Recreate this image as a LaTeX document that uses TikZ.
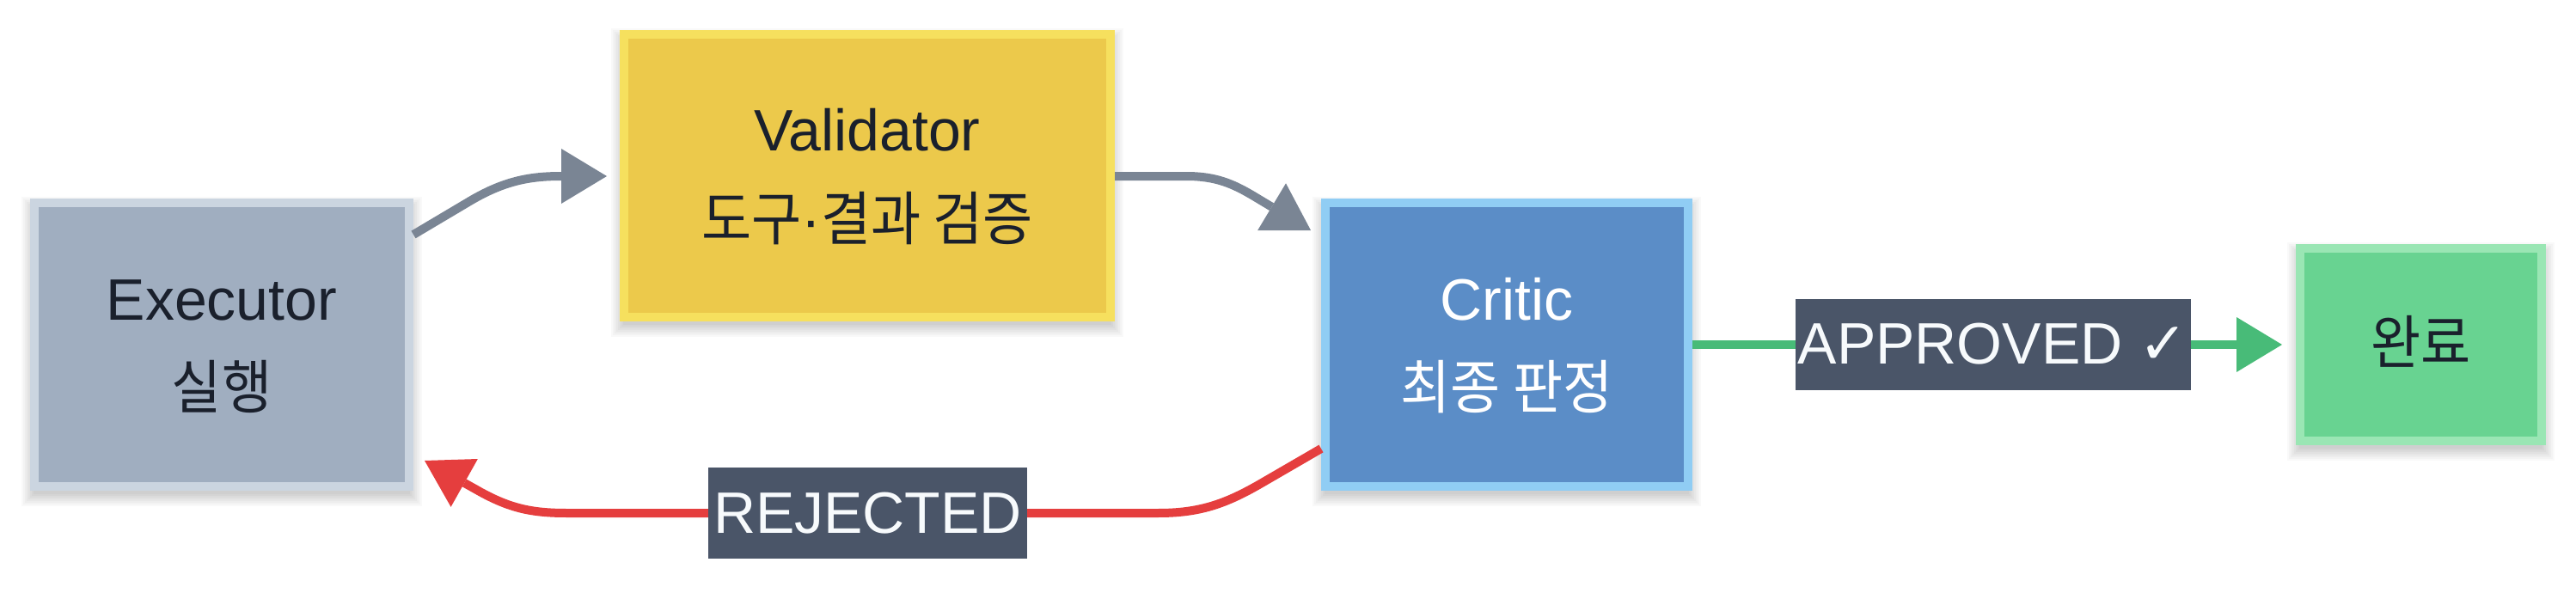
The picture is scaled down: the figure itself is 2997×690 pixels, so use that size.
\documentclass[tikz,border=0pt]{standalone}
\usepackage{fontspec}
\setmainfont{Liberation Sans}
\newfontfamily\krfont[FakeStretch=0.93]{Noto Sans CJK KR}
\newfontfamily\symfont{DejaVu Sans}
\usetikzlibrary{arrows.meta,calc}
\pgfdeclarelayer{background}
\pgfsetlayers{background,main}
\definecolor{execfill}{HTML}{A0AEC0}
\definecolor{execline}{HTML}{CBD5E0}
\definecolor{valfill}{HTML}{ECC94B}
\definecolor{valline}{HTML}{F6E05E}
\definecolor{critfill}{HTML}{5B8DC7}
\definecolor{critline}{HTML}{90CDF4}
\definecolor{donefill}{HTML}{68D391}
\definecolor{doneline}{HTML}{9AE6B4}
\definecolor{labelbg}{HTML}{4A5568}
\definecolor{darktext}{HTML}{1A202C}
\definecolor{lighttext}{HTML}{F7FAFC}
\definecolor{edgegraycol}{HTML}{7A8594}
\definecolor{edgeredcol}{HTML}{E53E3E}
\definecolor{edgegreencol}{HTML}{48BB78}
\begin{document}
\begin{tikzpicture}[x=1pt,y=-1pt,
  bigfont/.style={font={\fontsize{68pt}{80pt}\selectfont}},
  boxnode/.style={draw, line width=10pt, outer sep=0pt, inner sep=0pt},
  shadowlayer/.style={fill=black, opacity=0.025},
  txt/.style={bigfont, inner sep=0pt, outer sep=0pt, anchor=base},
  lbl/.style={bigfont, fill=labelbg, text=lighttext, inner sep=0pt, outer sep=0pt, minimum height=106pt},
  conn/.style={line width=10pt, -{Triangle[length=53pt,width=64pt,line width=0pt]}},
  edgegray/.style={conn, draw=edgegraycol},
  edgered/.style={conn, draw=edgeredcol},
  edgegreen/.style={conn, draw=edgegreencol}]
\useasboundingbox (0,0) rectangle (2997,690);

% boxes
\node[boxnode, draw=execline, fill=execfill, minimum width=436pt, minimum height=330pt] (exec) at (258,401) {};
\node[boxnode, draw=valline, fill=valfill, minimum width=566pt, minimum height=329pt] (val) at (1009,204.5) {};
\node[boxnode, draw=critline, fill=critfill, minimum width=422pt, minimum height=330pt] (crit) at (1753,401) {};
\node[boxnode, draw=doneline, fill=donefill, minimum width=281pt, minimum height=224pt] (done) at (2816.5,401) {};

% soft shadows behind the boxes
\begin{pgfonlayer}{background}
\fill[white] (0,0) rectangle (2997,690);
\foreach \b in {exec,val,crit,done}{
  \foreach \e in {-4,-2,...,10}{
    \fill[shadowlayer] ($(\b.south west)+(-5-\e,13+\e)$) rectangle ($(\b.north east)+(5+\e,3-\e)$);
  }
}
\end{pgfonlayer}

% box texts
\node[txt, text=darktext] (execA) at ($(exec.center)+(0,-29)$) {Executor};
\node[txt, text=darktext] (execB) at ($(exec.center)+(0,74)$) {\krfont 실행};
\node[txt, text=darktext] (valA) at ($(val.center)+(0,-29)$) {Validator};
\node[txt, text=darktext] (valB) at ($(val.center)+(0,75)$) {\krfont 도구{\rmfamily ·}결과 검증};
\node[txt, text=white] (critA) at ($(crit.center)+(0,-29)$) {Critic};
\node[txt, text=white] (critB) at ($(crit.center)+(0,74)$) {\krfont 최종 판정};
\node[txt, text=darktext] (doneA) at ($(done.center)+(0,22)$) {\krfont 완료};

% connectors
\draw[edgegray] ($(exec.east)+(5,-128)$) -- (545,235) .. controls (585,211) and (615,205) .. (653,205) -- ($(val.west)+(-20,0.5)$);
\draw[edgegray] ($(val.east)+(5,0.5)$) -- (1380,205) .. controls (1415,205) and (1435,214) .. (1460,229) -- ($(crit.west)+(-17,-133)$);
\draw[edgered] ($(crit.west)+(-5,121)$) -- (1468,562) .. controls (1425,587) and (1395,597) .. (1347,597) -- (660,597) .. controls (620,597) and (595,592) .. (560,573) -- ($(exec.east)+(18,135)$);
\draw[edgegreen] ($(crit.east)+(5,0)$) -- ($(done.west)+(-21,0)$);

% edge labels
\node[lbl, minimum width=371pt] (rej) at (1009.5,597) {REJECTED};
\node[lbl, minimum width=460pt] (appr) at (2318.5,400.5) {APPROVED {\symfont ✓}};
\end{tikzpicture}
\end{document}
